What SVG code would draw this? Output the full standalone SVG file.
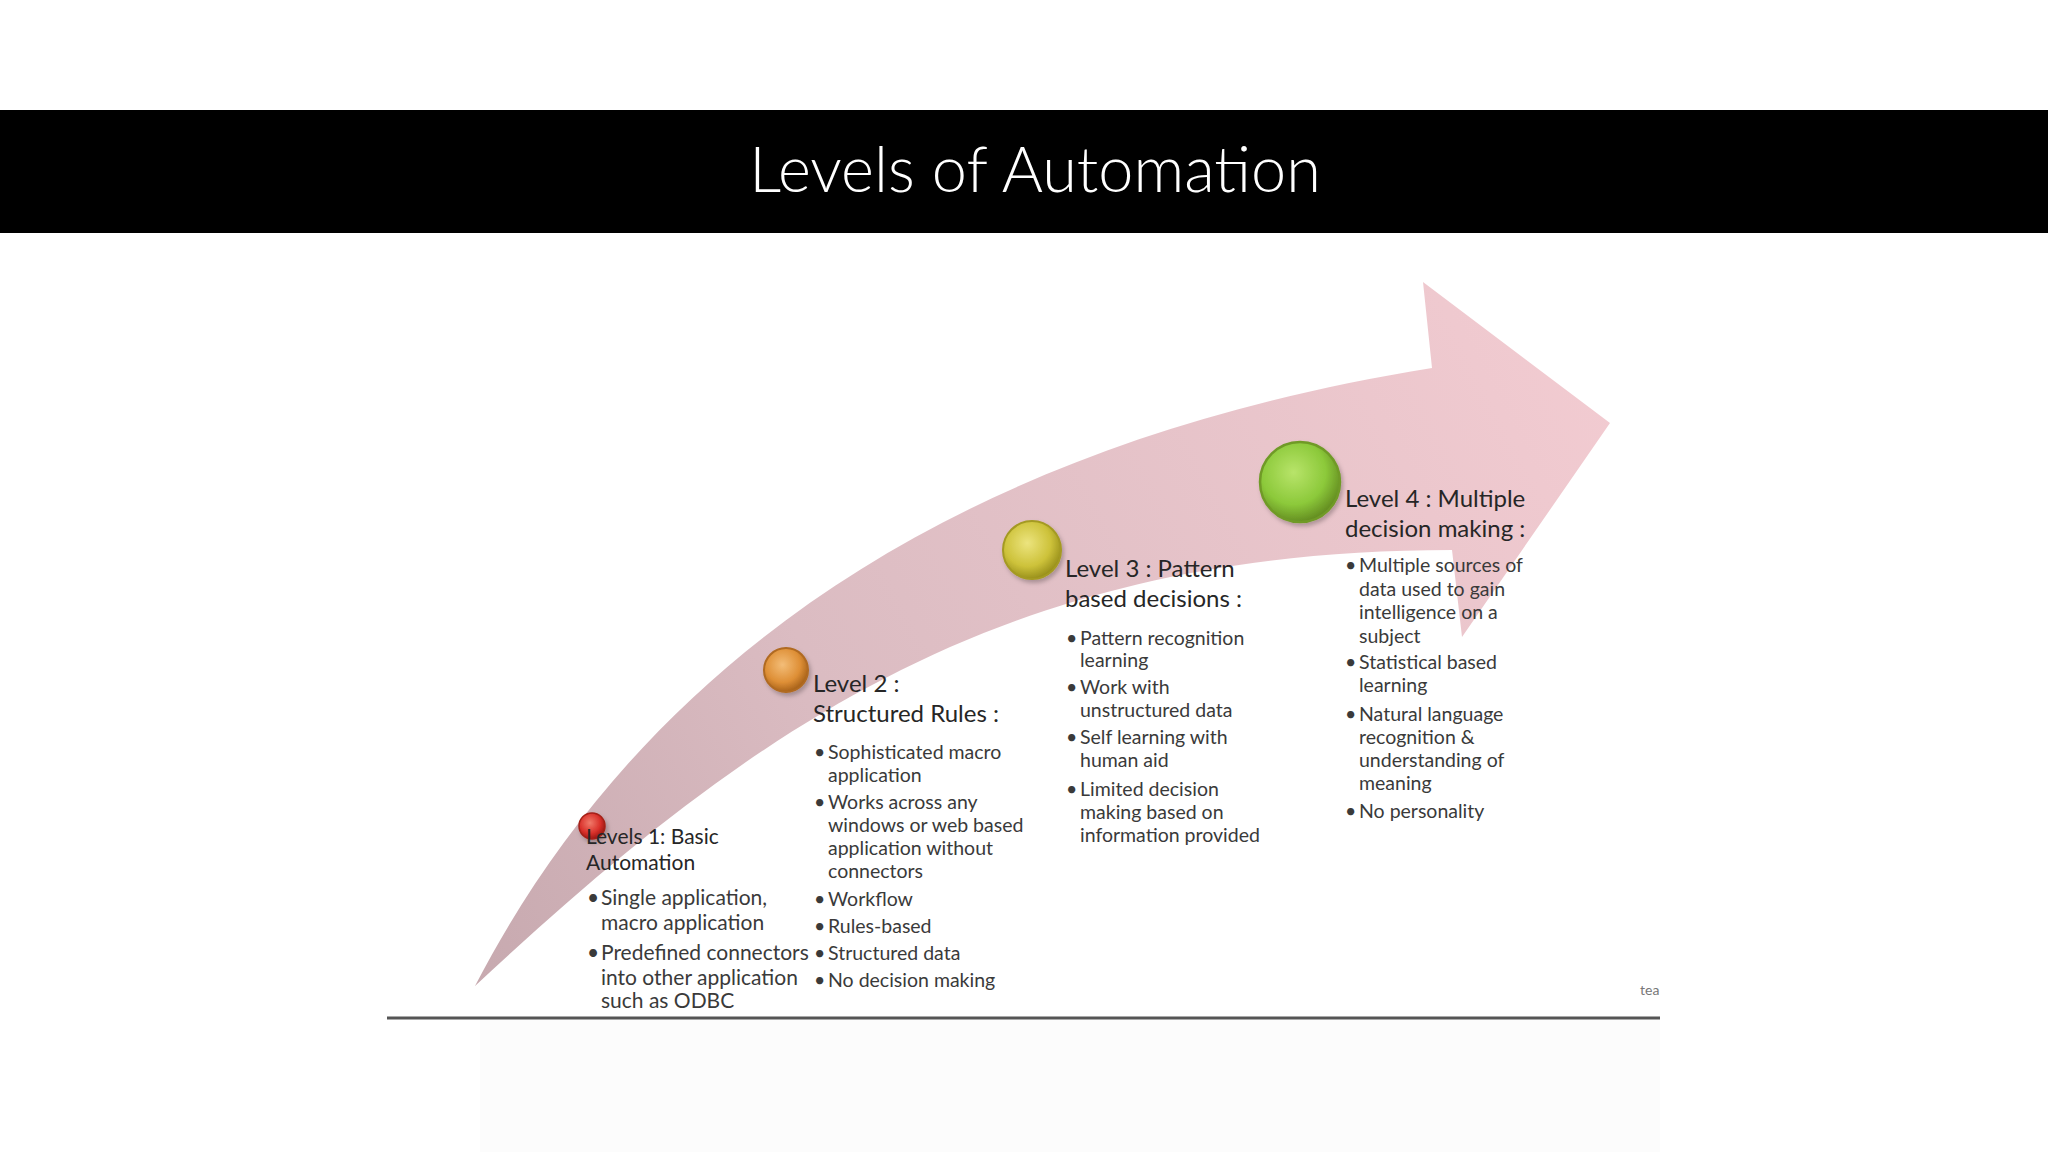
<svg xmlns="http://www.w3.org/2000/svg" width="2048" height="1152" viewBox="0 0 2048 1152">
<defs>
<linearGradient id="arrowGrad" gradientUnits="userSpaceOnUse" x1="475" y1="986" x2="1610" y2="380">
<stop offset="0" stop-color="#c7a9af"/>
<stop offset="0.35" stop-color="#dbbcc2"/>
<stop offset="1" stop-color="#f2cbd1"/>
</linearGradient>
<radialGradient id="gRed" cx="0.42" cy="0.38" r="0.62">
<stop offset="0" stop-color="#f07a6a"/><stop offset="0.65" stop-color="#d9302a"/><stop offset="1" stop-color="#9c1a16"/>
</radialGradient>
<radialGradient id="gOrange" cx="0.42" cy="0.38" r="0.62">
<stop offset="0" stop-color="#f3bd78"/><stop offset="0.65" stop-color="#de8f36"/><stop offset="1" stop-color="#a8621a"/>
</radialGradient>
<radialGradient id="gYellow" cx="0.42" cy="0.38" r="0.62">
<stop offset="0" stop-color="#ece47e"/><stop offset="0.65" stop-color="#cdc23a"/><stop offset="1" stop-color="#9a911c"/>
</radialGradient>
<radialGradient id="gGreen" cx="0.42" cy="0.38" r="0.62">
<stop offset="0" stop-color="#b8e46a"/><stop offset="0.65" stop-color="#8cc93a"/><stop offset="1" stop-color="#658f22"/>
</radialGradient>
<filter id="shadow" x="-30%" y="-30%" width="160%" height="160%">
<feDropShadow dx="2" dy="3" stdDeviation="2" flood-color="#000" flood-opacity="0.25"/>
</filter>
</defs>
<style>
.head{font-family:Lato,"Liberation Sans",sans-serif;fill:#262626}
.body{font-family:Lato,"Liberation Sans",sans-serif;fill:#3a3a3a}
.title{font-family:Lato,"Open Sans","Liberation Sans",sans-serif;font-weight:300;fill:#ffffff}
.ball{filter:url(#shadow)}
</style>
<rect x="0" y="0" width="2048" height="1152" fill="#ffffff"/>
<rect x="480" y="1020" width="1180" height="132" fill="#fcfcfc"/>
<g id="header">
<rect x="0" y="110" width="2048" height="123" fill="#000000"/>
<text class="title" x="1035" y="192" font-size="63" text-anchor="middle">Levels of Automation</text>
</g>
<g id="connectors">
<path id="arrow" d="M475,986 C636,675 937,448 1432,368 L1423,282 L1610,423 L1462,637 L1452,550 C1002,550 752,728 475,986 Z" fill="url(#arrowGrad)"/>
</g>
<g id="level1">
<g class="ball"><circle cx="592" cy="826" r="13" fill="url(#gRed)" stroke="#a52018" stroke-width="1.5"/></g>
<text class="head" font-size="21"><tspan x="586" y="844">Levels 1: Basic</tspan><tspan x="586" y="870">Automation</tspan></text>
<text class="body" font-size="21">
<tspan x="587" y="905">•</tspan><tspan x="601" y="905">Single application,</tspan>
<tspan x="601" y="930">macro application</tspan>
<tspan x="587" y="960">•</tspan><tspan x="601" y="960">Predefined connectors</tspan>
<tspan x="601" y="985">into other application</tspan>
<tspan x="601" y="1008">such as ODBC</tspan>
</text>
</g>
<g id="level2">
<g class="ball"><circle cx="786" cy="670" r="22" fill="url(#gOrange)" stroke="#b06a20" stroke-width="2"/></g>
<text class="head" font-size="24"><tspan x="813" y="692">Level 2 :</tspan><tspan x="813" y="722">Structured Rules :</tspan></text>
<text class="body" font-size="19.5">
<tspan x="814" y="759">•</tspan><tspan x="828" y="759">Sophisticated macro</tspan>
<tspan x="828" y="782">application</tspan>
<tspan x="814" y="809">•</tspan><tspan x="828" y="809">Works across any</tspan>
<tspan x="828" y="832">windows or web based</tspan>
<tspan x="828" y="855">application without</tspan>
<tspan x="828" y="878">connectors</tspan>
<tspan x="814" y="906">•</tspan><tspan x="828" y="906">Workflow</tspan>
<tspan x="814" y="933">•</tspan><tspan x="828" y="933">Rules-based</tspan>
<tspan x="814" y="960">•</tspan><tspan x="828" y="960">Structured data</tspan>
<tspan x="814" y="987">•</tspan><tspan x="828" y="987">No decision making</tspan>
</text>
</g>
<g id="level3">
<g class="ball"><circle cx="1032" cy="550" r="29" fill="url(#gYellow)" stroke="#a49a22" stroke-width="2"/></g>
<text class="head" font-size="24"><tspan x="1065" y="577">Level 3 : Pattern</tspan><tspan x="1065" y="607">based decisions :</tspan></text>
<text class="body" font-size="19.5">
<tspan x="1066" y="645">•</tspan><tspan x="1080" y="645">Pattern recognition</tspan>
<tspan x="1080" y="667">learning</tspan>
<tspan x="1066" y="694">•</tspan><tspan x="1080" y="694">Work with</tspan>
<tspan x="1080" y="717">unstructured data</tspan>
<tspan x="1066" y="744">•</tspan><tspan x="1080" y="744">Self learning with</tspan>
<tspan x="1080" y="767">human aid</tspan>
<tspan x="1066" y="796">•</tspan><tspan x="1080" y="796">Limited decision</tspan>
<tspan x="1080" y="819">making based on</tspan>
<tspan x="1080" y="842">information provided</tspan>
</text>
</g>
<g id="level4">
<g class="ball"><circle cx="1300" cy="482" r="40" fill="url(#gGreen)" stroke="#6f9a28" stroke-width="2.5"/></g>
<text class="head" font-size="24"><tspan x="1345" y="507">Level 4 : Multiple</tspan><tspan x="1345" y="537">decision making :</tspan></text>
<text class="body" font-size="19.5">
<tspan x="1345" y="572">•</tspan><tspan x="1359" y="572">Multiple sources of</tspan>
<tspan x="1359" y="596">data used to gain</tspan>
<tspan x="1359" y="619">intelligence on a</tspan>
<tspan x="1359" y="643">subject</tspan>
<tspan x="1345" y="669">•</tspan><tspan x="1359" y="669">Statistical based</tspan>
<tspan x="1359" y="692">learning</tspan>
<tspan x="1345" y="721">•</tspan><tspan x="1359" y="721">Natural language</tspan>
<tspan x="1359" y="744">recognition &amp;</tspan>
<tspan x="1359" y="767">understanding of</tspan>
<tspan x="1359" y="790">meaning</tspan>
<tspan x="1345" y="818">•</tspan><tspan x="1359" y="818">No personality</tspan>
</text>
</g>
<g id="footer">
<line x1="387" y1="1018" x2="1660" y2="1018" stroke="#555555" stroke-width="3"/>
<text x="1640" y="995" font-family="Lato,'Liberation Sans',sans-serif" font-size="14" fill="#777777">tea</text>
</g>
</svg>
